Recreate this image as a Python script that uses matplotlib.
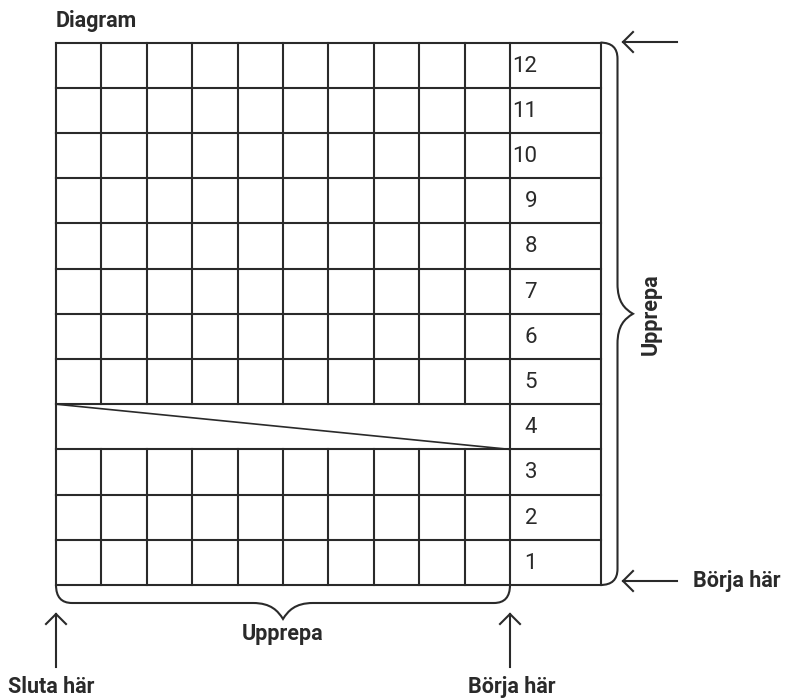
import matplotlib
matplotlib.use('Agg')
import matplotlib.pyplot as plt
from matplotlib.path import Path
from matplotlib.patches import PathPatch

# Chart content
row_labels = [1, 2, 3, 4, 5, 6, 7, 8, 9, 10, 11, 12]
n_cols = 10
split_row = 4          # row drawn as one wide cell with a diagonal
title = 'Diagram'
repeat_text = 'Upprepa'
start_text = 'Börja här'
end_text = 'Sluta här'

# Layout (pixels)
x0, cell_w = 56, 45.4
x_num = x0 + n_cols * cell_w     # left edge of the number column
x_right = 600.5
y_bot, cell_h = 585, 45.2
y_top = y_bot - len(row_labels) * cell_h

ink = '#2a2a2a'
lw = 1.5
bold = dict(family=['Roboto', 'DejaVu Sans'], fontweight='bold', fontsize=15.5, color=ink)
regular = dict(family=['Roboto', 'DejaVu Sans'], fontsize=16, color=ink)

fig = plt.figure(figsize=(7.87, 7.0), dpi=100)
ax = fig.add_axes([0, 0, 1, 1])
ax.set_xlim(0, 787)
ax.set_ylim(700, 0)
ax.axis('off')


def row_y(r):
    # top edge of row r (1 = bottom row)
    return y_bot - r * cell_h


# horizontal lines
for r in range(len(row_labels) + 1):
    y = y_bot - r * cell_h
    ax.plot([x0, x_right], [y, y], color=ink, lw=lw, solid_capstyle='projecting')

# vertical lines
for c in range(n_cols + 1):
    x = x0 + c * cell_w
    for r in row_labels:
        if r == split_row and 0 < c < n_cols:
            continue
        ax.plot([x, x], [row_y(r), row_y(r) + cell_h], color=ink, lw=lw,
                solid_capstyle='projecting')
ax.plot([x_right, x_right], [y_top, y_bot], color=ink, lw=lw)

# diagonal in the split row
ax.plot([x0, x_num], [row_y(split_row), row_y(split_row) + cell_h], color=ink, lw=1.2)

# row numbers
for r in row_labels:
    ax.text(x_num + 27, row_y(r) + cell_h / 2 + 1, str(r), ha='right', va='center', **regular)

ax.text(x0, 21, title, ha='left', va='center', **bold)

# right brace
bx = 617.5
ym = (y_top + y_bot) / 2
verts = [(x_right, y_top), (bx, y_top), (bx, y_top + 16),
         (bx, ym - 30),
         (bx, ym - 12), (bx + 7, ym - 5), (bx + 15.5, ym),
         (bx + 7, ym + 5), (bx, ym + 12), (bx, ym + 30),
         (bx, y_bot - 16),
         (bx, y_bot), (x_right, y_bot)]
codes = [Path.MOVETO, Path.CURVE3, Path.CURVE3,
         Path.LINETO,
         Path.CURVE4, Path.CURVE4, Path.CURVE4,
         Path.CURVE4, Path.CURVE4, Path.CURVE4,
         Path.LINETO,
         Path.CURVE3, Path.CURVE3]
ax.add_patch(PathPatch(Path(verts, codes), fill=False, edgecolor=ink, lw=lw))
ax.text(651, ym, repeat_text, rotation=90, ha='center', va='center', **bold)

# bottom brace
by = 603
xm = (x0 + x_num) / 2
verts = [(x0, y_bot), (x0, by), (x0 + 16, by),
         (xm - 30, by),
         (xm - 12, by), (xm - 5, by + 8), (xm, by + 16),
         (xm + 5, by + 8), (xm + 12, by), (xm + 30, by),
         (x_num - 16, by),
         (x_num, by), (x_num, y_bot)]
ax.add_patch(PathPatch(Path(verts, codes), fill=False, edgecolor=ink, lw=lw))
ax.text(xm, 634, repeat_text, ha='center', va='center', **bold)


def arrow_left(y):
    ax.plot([623, 677], [y, y], color=ink, lw=lw)
    ax.plot([633, 623, 633], [y - 10, y, y + 10], color=ink, lw=lw, solid_joinstyle='miter')


def arrow_up(x):
    ax.plot([x, x], [614, 667], color=ink, lw=lw)
    ax.plot([x - 10, x, x + 10], [624, 614, 624], color=ink, lw=lw, solid_joinstyle='miter')


arrow_left(42)
arrow_left(581)
arrow_up(x0)
arrow_up(x_num)

ax.text(693, 581, start_text, ha='left', va='center', **bold)
ax.text(8, 687, end_text, ha='left', va='center', **bold)
ax.text(x_num + 2, 687, start_text, ha='center', va='center', **bold)

fig.savefig('out.png', dpi=100, facecolor='white')
